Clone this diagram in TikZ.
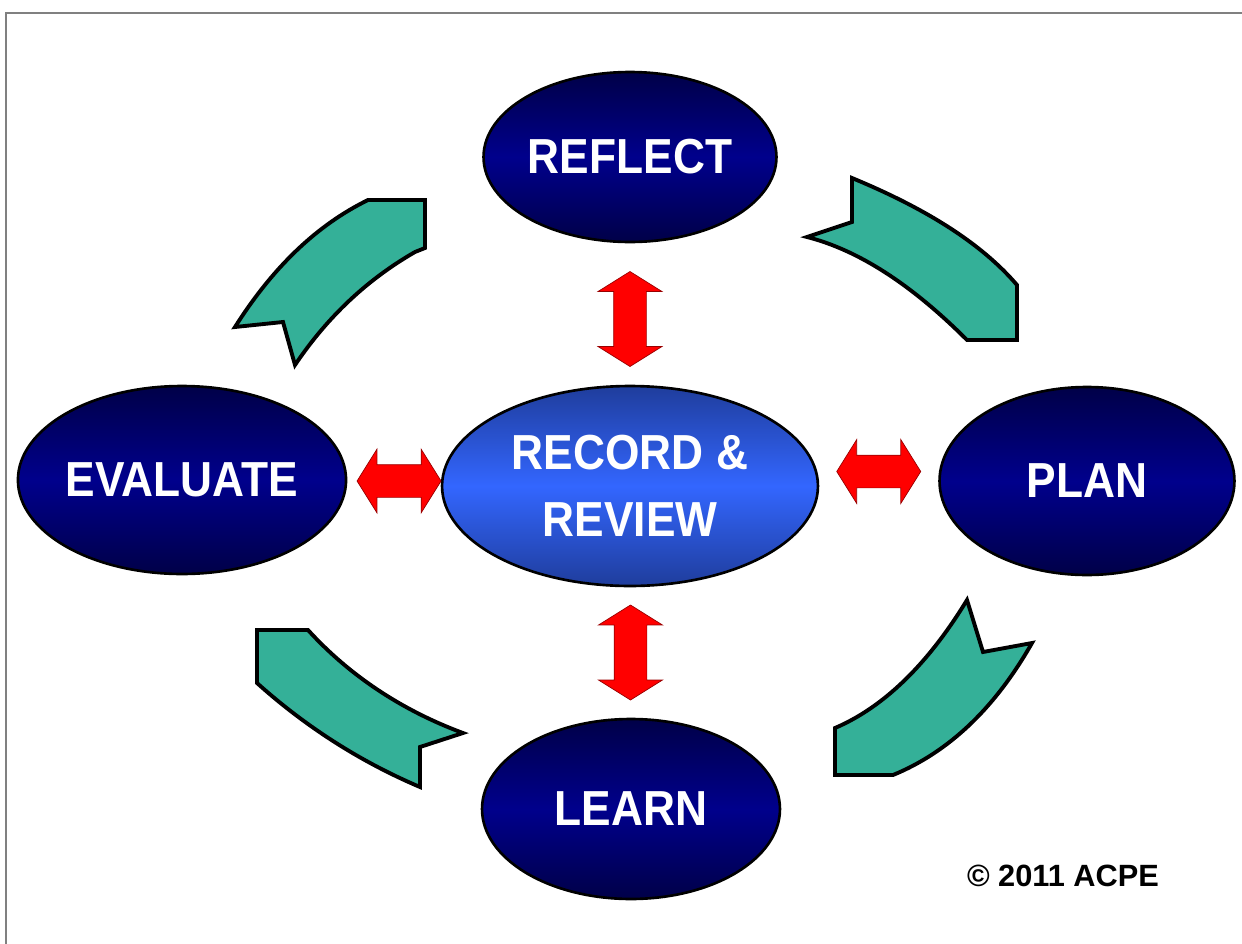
\documentclass[tikz,border=0pt]{standalone}
\usepackage{fontspec}
\setmainfont{Liberation Sans}
\newfontfamily\stagefont[FakeStretch=0.9]{Liberation Sans}
\usetikzlibrary{shapes.geometric,shapes.arrows,calc}

\definecolor{stagetop}{HTML}{000048}
\definecolor{stagemid}{HTML}{00008C}
\definecolor{hubtop}{HTML}{1F3D9C}
\definecolor{hubmid}{HTML}{3366FF}
\definecolor{cyclegreen}{HTML}{34B098}
\definecolor{linkred}{HTML}{FF0000}

\begin{document}
\begin{tikzpicture}[x=0.02cm, y=-0.02cm,
  stage/.style={ellipse, draw=black, line width=1.5pt, top color=stagetop, bottom color=stagetop, middle color=stagemid, text=white, font=\stagefont\bfseries\fontsize{28}{38}\selectfont, inner sep=0pt, minimum width=5.9cm, minimum height=3.76cm},
  hub/.style={stage, top color=hubtop, bottom color=hubtop, middle color=hubmid, align=center, minimum width=7.52cm, minimum height=4cm},
  link/.style={double arrow, draw=red!60!black, fill=linkred, line width=0.4pt, inner xsep=0pt, inner ysep=0.32cm, double arrow head extend=0.31cm, double arrow tip angle=116},
  cyclearrow/.style={fill=cyclegreen, draw=black, line width=2.2pt}]
\useasboundingbox (0,0) rectangle (1242,944);
\draw[gray, line width=0.9pt] (6,944) -- (6,13) -- (1242,13);

\begin{scope}
\node[stage, minimum width=5.86cm, minimum height=3.4cm] (reflect) at (630,157) {REFLECT};
\node[stage] (evaluate) at (182,480) {EVALUATE};
\node[stage] (plan) at (1087,481) {PLAN};
\node[stage, minimum width=5.96cm, minimum height=3.6cm] (learn) at (631,809) {LEARN};
\node[hub] (review) at (630,486) {RECORD \&\\REVIEW};

\node[link, rotate=90, minimum height=1.9cm] (up) at ($(reflect.south)!0.5!(review.north)+(0,5)$) {};
\node[link, rotate=90, minimum height=1.9cm] (down) at ($(review.south)!0.5!(learn.north)$) {};
\node[link, minimum height=1.68cm] (left) at ($(evaluate.east)!0.5!(review.west)+(5,-2)$) {};
\node[link, minimum height=1.68cm] (right) at ($(review.east)!0.5!(plan.west)+(0,-12)$) {};
\end{scope}

\draw[cyclearrow] (235,327) .. controls (273,267) and (317,225) .. (368,200) -- (425,200) -- (425,248) -- (415,252)
  .. controls (368,279) and (328,316) .. (295,365) -- (283,322) -- cycle;
\draw[cyclearrow] (807,237) -- (852,222) -- (852,178) .. controls (927,209) and (982,244) .. (1017,285) -- (1017,340)
  -- (967,340) .. controls (911,284) and (858,250) .. (807,237) -- cycle;
\draw[cyclearrow] (967,600) -- (983,652) -- (1032,643) .. controls (995,708) and (949,752) .. (893,775) -- (835,775)
  -- (835,728) .. controls (884,707) and (928,664) .. (967,600) -- cycle;
\draw[cyclearrow] (257,630) -- (308,630) .. controls (349,675) and (401,710) .. (463,733) -- (420,747) -- (420,787)
  .. controls (361,762) and (306,727) .. (257,683) -- cycle;

\node[font=\bfseries\fontsize{17.5}{20}\selectfont] (rights) at (1063,876) {© 2011 ACPE};
\end{tikzpicture}
\end{document}
